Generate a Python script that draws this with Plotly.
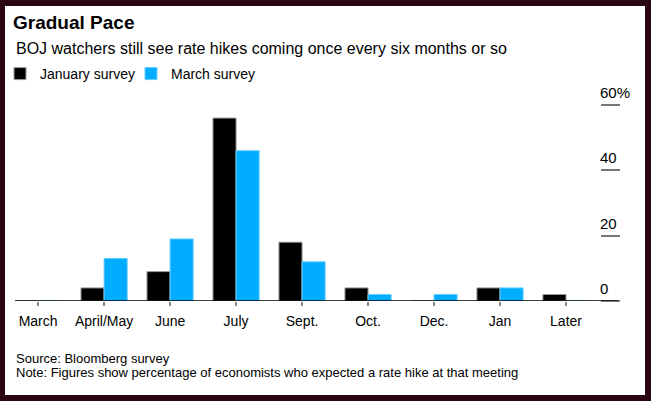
import plotly.graph_objects as go

# survey data (percent of economists expecting a hike at each meeting)
MEETINGS = ["March", "April/May", "June", "July", "Sept.", "Oct.", "Dec.", "Jan", "Later"]
JANUARY = [0, 4, 9, 56, 18, 4, 0, 4, 2]
MARCH = [0, 13, 19, 46, 12, 2, 2, 4, 0]

Y_TICKS = [0, 20, 40, 60]
Y_TICKTEXT = ["0", "20", "40", "60%"]

FONT = "Liberation Sans, Arial, sans-serif"
BLACK = "#000000"
BLUE = "#00adff"
FRAME = "#2a0712"

W, H = 651, 401
L, R, T, B = 15, 51, 105, 100
PW = W - L - R
PH = H - T - B


# pixel -> paper coords
def px(x):
    return (x - L) / PW


def py(y):
    return (H - B - y) / PH


fig = go.Figure()
fig.add_trace(go.Bar(
    x=MEETINGS, y=JANUARY, name="January survey",
    marker=dict(color=BLACK, line=dict(color="#9a9a9a", width=1)),
))
fig.add_trace(go.Bar(
    x=MEETINGS, y=MARCH, name="March survey",
    marker=dict(color=BLUE, line=dict(color="#66ccff", width=1)),
))

fig.update_layout(
    width=W, height=H,
    margin=dict(l=L, r=R, t=T, b=B, autoexpand=False),
    paper_bgcolor=FRAME,
    plot_bgcolor="white",
    font=dict(family=FONT, color="#000"),
    barmode="group", bargap=0.3, bargroupgap=0,
    title=dict(
        text="<b>Gradual Pace</b>", font=dict(size=19, color="#000"),
        xref="container", yref="container", x=13 / W, xanchor="left",
        y=1 - 22 / H, yanchor="middle",
    ),
    legend=dict(
        orientation="h", xref="container", yref="container",
        x=-2 / W, xanchor="left", y=1 - 74 / H, yanchor="middle",
        font=dict(size=14), bgcolor="rgba(0,0,0,0)", traceorder="normal",
        entrywidth=86, itemclick=False,
    ),
    showlegend=True,
)

fig.update_xaxes(
    type="category", range=[-0.35, 8.515], automargin=False,
    showgrid=False, zeroline=False, showline=False,
    ticks="outside", ticklen=4, tickcolor="#888", tickwidth=1.5,
    tickfont=dict(size=14), ticklabelstandoff=3,
)
fig.update_yaxes(
    side="right", range=[0, 60], automargin=False,
    tickvals=Y_TICKS, ticktext=Y_TICKTEXT,
    showgrid=False, zeroline=False, showline=False,
    ticks="outside", ticklen=19, tickcolor="#777", tickwidth=1.5,
    ticklabelposition="outside top", ticklabelstandoff=-4, ticklabelshift=-1,
    tickfont=dict(size=15),
)

# white card inside the dark frame
fig.add_shape(
    type="rect", xref="paper", yref="paper", layer="below",
    x0=px(5), x1=px(645), y0=py(395), y1=py(6),
    fillcolor="white", line=dict(width=0),
)
# baseline running out to the tick column
fig.add_shape(
    type="line", xref="paper", yref="y", layer="above",
    x0=0, x1=px(618), y0=0, y1=0,
    line=dict(color="#000", width=1.5),
)

fig.add_annotation(
    text="BOJ watchers still see rate hikes coming once every six months or so",
    xref="paper", yref="paper", x=px(14), y=py(48.5),
    xanchor="left", yanchor="middle", showarrow=False,
    font=dict(size=16, color="#000"),
)
fig.add_annotation(
    text="Source: Bloomberg survey",
    xref="paper", yref="paper", x=px(14), y=py(358.5),
    xanchor="left", yanchor="middle", showarrow=False,
    font=dict(size=13, color="#000"),
)
fig.add_annotation(
    text="Note: Figures show percentage of economists who expected a rate hike at that meeting",
    xref="paper", yref="paper", x=px(14), y=py(372),
    xanchor="left", yanchor="middle", showarrow=False,
    font=dict(size=13, color="#000"),
)

# drop the browser's default body margin so the figure sits at (0, 0)
fig.write_html(
    "out.html",
    config={"displayModeBar": False},
    post_script="document.body.style.margin='0';",
)
